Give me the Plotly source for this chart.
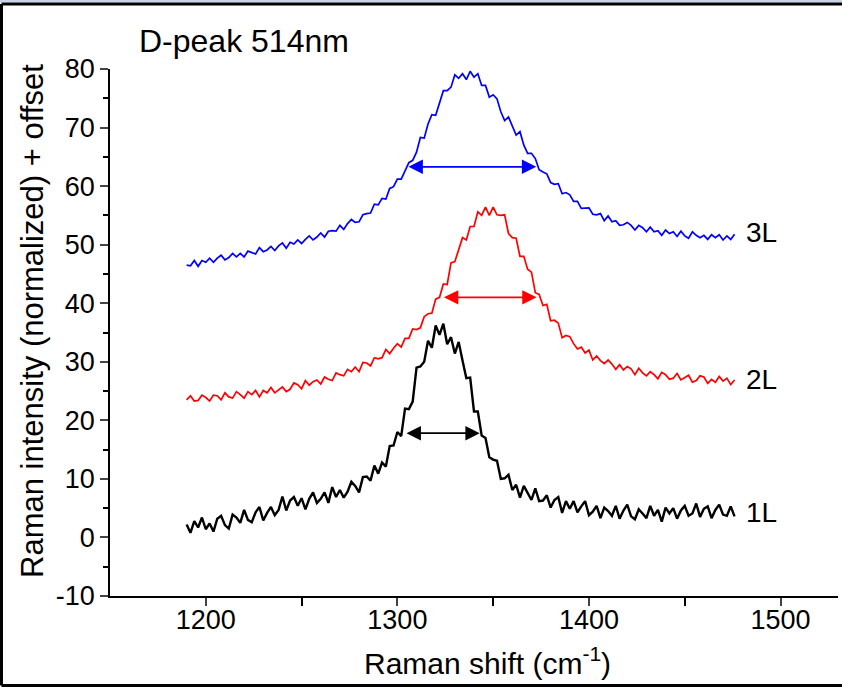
import plotly.graph_objects as go

# Raman shift sample grid (cm^-1), 2 cm^-1 steps
RAMAN_SHIFT = list(range(1190, 1477, 2))

# 1L (black)
INT_1L = [2.2, 0.8, 2.8, 1.7, 3.4, 1.4, 2.4, 1.0, 3.2, 3.7,
          2.1, 1.5, 3.9, 3.4, 2.5, 4.7, 3.0, 2.6, 4.3, 5.2,
          2.9, 4.2, 5.2, 3.8, 4.7, 7.0, 4.6, 6.3, 6.9, 5.4,
          6.7, 4.8, 6.6, 7.7, 5.9, 6.6, 7.7, 5.9, 8.6, 6.9,
          8.1, 6.8, 7.8, 9.5, 8.8, 7.7, 10.3, 10.4, 9.7, 12.3,
          10.9, 12.8, 12.1, 15.6, 15.7, 18.0, 17.3, 22.0, 21.9, 23.2,
          29.0, 29.2, 30.0, 33.6, 32.4, 36.2, 34.6, 36.5, 33.0, 34.2,
          31.4, 33.4, 30.2, 27.2, 27.3, 21.5, 21.5, 17.4, 17.0, 13.7,
          13.3, 13.1, 10.0, 10.1, 10.7, 8.1, 9.0, 6.8, 8.8, 7.6,
          6.4, 8.4, 6.2, 6.3, 7.2, 5.1, 6.4, 6.9, 4.2, 6.2,
          4.9, 6.2, 4.3, 5.3, 6.2, 3.8, 4.4, 5.4, 3.3, 5.1,
          4.5, 3.7, 5.4, 3.2, 4.6, 5.6, 3.6, 3.1, 4.8, 4.1,
          3.3, 5.4, 3.7, 4.7, 2.7, 5.1, 4.1, 5.0, 3.2, 4.6,
          5.4, 3.7, 4.1, 5.8, 3.5, 4.9, 5.3, 3.3, 4.7, 5.6,
          3.9, 3.7, 5.3, 3.6]

# 2L (red)
INT_2L = [23.5, 24.2, 23.3, 23.4, 24.3, 23.9, 23.3, 24.3, 24.2, 23.5,
          24.7, 24.0, 23.8, 24.9, 24.4, 23.8, 24.9, 24.4, 25.1, 24.0,
          25.1, 24.7, 25.6, 24.7, 25.2, 25.7, 24.9, 25.3, 26.4, 26.1,
          25.4, 26.8, 26.0, 26.6, 26.9, 26.2, 27.4, 27.0, 26.8, 28.1,
          27.8, 27.6, 28.7, 28.3, 29.1, 28.3, 29.9, 29.8, 29.3, 30.7,
          30.5, 30.7, 32.1, 31.4, 32.3, 33.1, 32.5, 34.0, 34.0, 35.6,
          35.5, 35.8, 37.7, 38.2, 38.3, 40.7, 41.0, 43.3, 43.2, 46.9,
          47.1, 49.0, 51.2, 50.8, 53.1, 53.1, 55.6, 55.0, 56.4, 55.0,
          56.4, 55.1, 55.0, 55.1, 51.9, 51.2, 51.1, 48.0, 48.0, 45.8,
          45.3, 41.8, 41.5, 39.6, 39.8, 37.0, 37.1, 36.6, 34.1, 34.5,
          34.3, 33.1, 32.2, 32.5, 31.5, 32.0, 30.3, 31.0, 30.2, 29.7,
          30.3, 29.6, 28.7, 29.5, 28.6, 29.2, 28.8, 27.8, 28.9, 28.1,
          27.6, 28.3, 27.8, 27.1, 28.2, 27.8, 27.0, 27.2, 28.0, 26.9,
          27.3, 27.7, 26.5, 26.8, 27.6, 27.4, 26.3, 27.0, 26.5, 27.5,
          26.7, 27.2, 26.1, 26.9]

# 3L (blue)
INT_3L = [46.5, 46.4, 47.3, 46.3, 47.3, 47.0, 47.7, 47.0, 47.7, 48.2,
          47.4, 47.8, 48.5, 47.9, 48.5, 47.9, 48.9, 48.7, 48.4, 49.5,
          48.8, 49.1, 49.7, 49.0, 49.8, 50.3, 49.4, 50.4, 50.1, 50.8,
          50.2, 50.9, 51.5, 50.8, 51.3, 52.0, 51.3, 52.3, 52.4, 52.3,
          53.3, 52.6, 53.6, 54.3, 53.8, 53.9, 55.1, 55.3, 55.4, 56.9,
          56.8, 57.9, 57.8, 59.6, 59.9, 61.2, 61.2, 62.6, 64.0, 64.4,
          65.8, 68.3, 68.2, 70.6, 72.2, 72.1, 74.4, 76.3, 76.3, 76.9,
          79.0, 78.4, 79.2, 78.2, 79.6, 78.6, 79.2, 77.2, 77.2, 75.2,
          75.6, 74.9, 72.7, 71.2, 71.8, 70.3, 68.7, 69.3, 67.0, 65.6,
          65.6, 64.7, 62.8, 62.4, 62.1, 60.6, 60.3, 60.4, 58.7, 58.9,
          58.5, 57.4, 57.4, 56.2, 56.3, 56.3, 55.2, 55.1, 55.3, 54.1,
          54.9, 53.9, 54.1, 53.3, 53.4, 53.8, 53.3, 52.5, 53.3, 52.9,
          52.2, 53.0, 52.2, 52.4, 51.6, 52.5, 51.9, 52.2, 51.4, 52.3,
          51.5, 51.1, 52.2, 51.6, 51.2, 51.6, 50.9, 51.7, 51.2, 51.7,
          50.8, 51.5, 50.9, 51.8]

SERIES_NAMES = ["1L", "2L", "3L"]
SERIES_COLORS = ["#000000", "#ff0000", "#0000ff"]
LABEL_Y = [4.2, 26.9, 52.0]
LABEL_X = 1490

# FWHM arrows
FWHM_START = [1304, 1323.5, 1305]
FWHM_END = [1343, 1372.7, 1372.5]
FWHM_Y = [17.8, 41.0, 63.3]

X_TICKS = [1200, 1300, 1400, 1500]
Y_TICKS = [-10, 0, 10, 20, 30, 40, 50, 60, 70, 80]
Y_TICK_TEXT = ["-10", "0", "10", "20", "30", "40", "50", "60", "70", "80"]

FONT = "Liberation Sans, Arial, sans-serif"

fig = go.Figure()
for name, ys, col, w in zip(SERIES_NAMES, [INT_1L, INT_2L, INT_3L], SERIES_COLORS, [2.4, 1.7, 1.7]):
    fig.add_trace(go.Scatter(x=RAMAN_SHIFT, y=ys, mode="lines", name=name,
                             line=dict(color=col, width=w), showlegend=False))

annotations = []
for name, ly in zip(SERIES_NAMES, LABEL_Y):
    annotations.append(dict(x=LABEL_X, y=ly, xref="x", yref="y", text=name, showarrow=False,
                            font=dict(family=FONT, size=28, color="black")))
for x0, x1, y, col in zip(FWHM_START, FWHM_END, FWHM_Y, SERIES_COLORS):
    annotations.append(dict(x=x1, y=y, ax=x0, ay=y, xref="x", yref="y", axref="x", ayref="y",
                            text="", showarrow=True, arrowhead=2, startarrowhead=2,
                            arrowside="end+start", arrowsize=1.6, startarrowsize=1.6,
                            arrowwidth=1.8, arrowcolor=col, standoff=0, startstandoff=0))
annotations.append(dict(x=(137 - 110) / 728, y=(596 - 41) / 527, xref="paper", yref="paper",
                        text="D-peak 514nm", showarrow=False, xanchor="left", yanchor="middle",
                        font=dict(family=FONT, size=32, color="black")))
annotations.append(dict(x=(487 - 110) / 728, y=(596 - 661) / 527, xref="paper", yref="paper",
                        text="Raman shift (cm<sup>-1</sup>)", showarrow=False,
                        xanchor="center", yanchor="middle",
                        font=dict(family=FONT, size=30, color="black")))
annotations.append(dict(x=(32 - 110) / 728, y=(596 - 321) / 527, xref="paper", yref="paper",
                        text="Raman intensity (normalized) + offset", showarrow=False,
                        textangle=-90, xanchor="center", yanchor="middle",
                        font=dict(family=FONT, size=31, color="black")))

PX_L, PX_R = (1.5 - 110) / 728, (842 - 110) / 728
PY_T, PY_B = (596 - 4) / 527, (596 - 685.5) / 527
shapes = [
    dict(type="rect", xref="paper", yref="paper", x0=-0.2, x1=1.05,
         y0=(596 - 2.5) / 527, y1=(596 + 2) / 527, fillcolor="#c9d5e6",
         line=dict(width=0), layer="below"),
    dict(type="line", xref="paper", yref="paper", x0=PX_L, x1=PX_R, y0=PY_T, y1=PY_T,
         line=dict(color="black", width=3)),
    dict(type="line", xref="paper", yref="paper", x0=PX_L, x1=PX_R, y0=PY_B, y1=PY_B,
         line=dict(color="black", width=3)),
    dict(type="line", xref="paper", yref="paper", x0=PX_L, x1=PX_L, y0=PY_B, y1=PY_T,
         line=dict(color="black", width=3)),
]

fig.update_layout(
    width=842, height=688,
    margin=dict(l=110, r=4, t=69, b=92),
    paper_bgcolor="white", plot_bgcolor="white",
    font=dict(family=FONT, size=24, color="black"),
    annotations=annotations, shapes=shapes,
    xaxis=dict(range=[1150, 1530], tickvals=X_TICKS, ticks="outside",
               ticklen=8, tickwidth=1.5, showline=True, linecolor="black", linewidth=1.5,
               showgrid=False, zeroline=False, tickfont=dict(family=FONT, size=27),
               ticklabelstandoff=-9,
               minor=dict(tickvals=[1250, 1350, 1450], ticks="outside", ticklen=8,
                          tickwidth=1.5, tickcolor="black")),
    yaxis=dict(range=[-10, 80], tickvals=Y_TICKS, ticktext=Y_TICK_TEXT, ticks="outside",
               ticklen=8, tickwidth=1.5, showline=True, linecolor="black", linewidth=1.5,
               showgrid=False, zeroline=False, tickfont=dict(family=FONT, size=27),
               minor=dict(tickvals=list(range(-5, 80, 10)), ticks="outside", ticklen=5,
                          tickwidth=1.5, tickcolor="black")),
)

fig.write_html(
    "out.html", config={"displayModeBar": False},
    post_script=("document.body.style.margin='0px';document.body.style.padding='0px';"
                 "document.body.style.overflow='hidden';"
                 "document.documentElement.style.overflow='hidden';"))
